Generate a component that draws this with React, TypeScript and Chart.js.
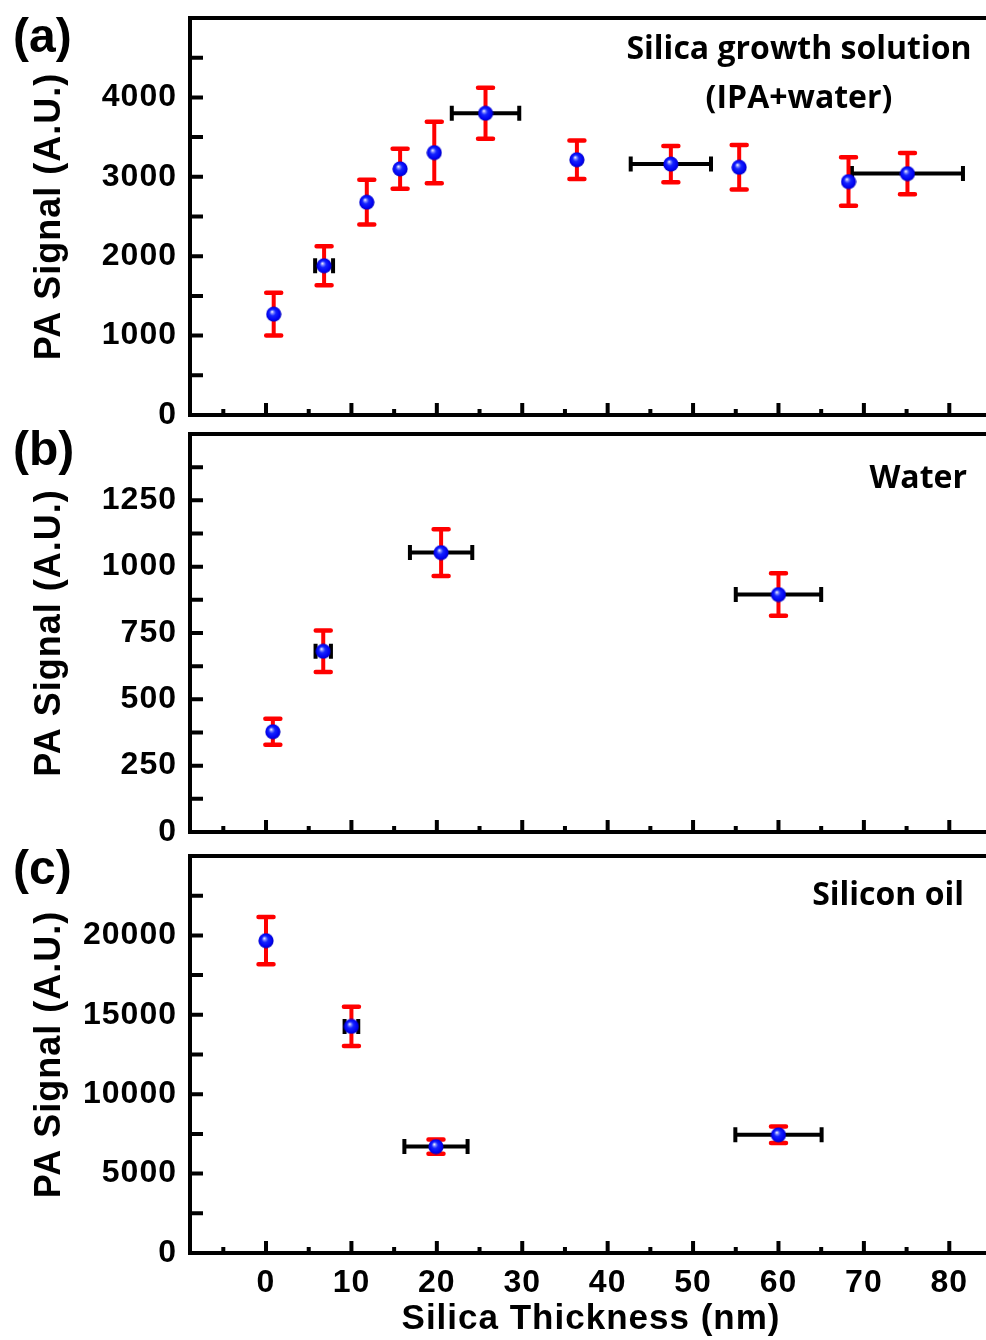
import React, { useEffect, useRef } from 'react';
import { Chart, registerables } from 'chart.js';

Chart.register(...registerables);

// ---------------- data ----------------
const X_MIN = -8.9;
const X_MAX = 85;
const X_MAJOR_TICKS = [0, 10, 20, 30, 40, 50, 60, 70, 80];
const X_MINOR_TICKS = [-5, 5, 15, 25, 35, 45, 55, 65, 75];
const X_TITLE = 'Silica Thickness (nm)';
const Y_TITLE = 'PA Signal (A.U.)';

// (a) Silica growth solution (IPA+water)
const A_X = [0.9, 6.8, 11.8, 15.7, 19.7, 25.7, 36.4, 47.4, 55.4, 68.2, 75.1];
const A_Y = [1270, 1880, 2680, 3100, 3305, 3800, 3215, 3160, 3120, 2940, 3040];
const A_YERR = [270, 245, 282, 252, 387, 322, 242, 228, 280, 305, 261];
const A_XERR = [0, 1.05, 0, 0, 0, 3.95, 0, 4.7, 0, 0, 6.5];
const A_Y_MAX = 5000;
const A_Y_MAJOR = [0, 1000, 2000, 3000, 4000];
const A_Y_MINOR = [500, 1500, 2500, 3500, 4500];
const A_LABEL = '(a)';
const A_NOTE = ['Silica growth solution', '(IPA+water)'];

// (b) Water
const B_X = [0.8, 6.7, 20.5, 60.0];
const B_Y = [378, 681, 1053, 895];
const B_YERR = [49, 78, 88, 80];
const B_XERR = [0, 0.9, 3.65, 5.0];
const B_Y_MAX = 1500;
const B_Y_MAJOR = [0, 250, 500, 750, 1000, 1250];
const B_Y_MINOR = [125, 375, 625, 875, 1125, 1375];
const B_LABEL = '(b)';
const B_NOTE = ['Water'];

// (c) Silicon oil
const C_X = [0, 10, 19.9, 60.0];
const C_Y = [19670, 14270, 6700, 7440];
const C_YERR = [1490, 1240, 450, 520];
const C_XERR = [0, 0.8, 3.7, 5.05];
const C_Y_MAX = 25000;
const C_Y_MAJOR = [0, 5000, 10000, 15000, 20000];
const C_Y_MINOR = [2500, 7500, 12500, 17500, 22500];
const C_LABEL = '(c)';
const C_NOTE = ['Silicon oil'];

// ---------------- styling / layout ----------------
const FONT = "'Liberation Sans', Arial, Helvetica, sans-serif";
const NOTE_FONT = "'Open Sans', sans-serif";
const CANVAS_W = 1000;

type PanelCfg = {
  key: string;
  top: number;
  height: number;
  padTop: number;
  xHeight: number;
  xs: number[];
  ys: number[];
  yerr: number[];
  xerr: number[];
  yMax: number;
  yMajor: number[];
  yMinor: number[];
  label: string;
  labelBaseline: number;
  note: string[];
  noteX: number;
  noteAlign: CanvasTextAlign;
  noteBaselines: number[];
  showXLabels: boolean;
};

const PANELS: PanelCfg[] = [
  {
    key: 'a', top: 0, height: 425, padTop: 18, xHeight: 10,
    xs: A_X, ys: A_Y, yerr: A_YERR, xerr: A_XERR,
    yMax: A_Y_MAX, yMajor: A_Y_MAJOR, yMinor: A_Y_MINOR,
    label: A_LABEL, labelBaseline: 52,
    note: A_NOTE, noteX: 799, noteAlign: 'center', noteBaselines: [59, 108],
    showXLabels: false,
  },
  {
    key: 'b', top: 425, height: 425, padTop: 9, xHeight: 18,
    xs: B_X, ys: B_Y, yerr: B_YERR, xerr: B_XERR,
    yMax: B_Y_MAX, yMajor: B_Y_MAJOR, yMinor: B_Y_MINOR,
    label: B_LABEL, labelBaseline: 40,
    note: B_NOTE, noteX: 967, noteAlign: 'right', noteBaselines: [63],
    showXLabels: false,
  },
  {
    key: 'c', top: 845, height: 495, padTop: 11, xHeight: 87,
    xs: C_X, ys: C_Y, yerr: C_YERR, xerr: C_XERR,
    yMax: C_Y_MAX, yMajor: C_Y_MAJOR, yMinor: C_Y_MINOR,
    label: C_LABEL, labelBaseline: 39,
    note: C_NOTE, noteX: 964, noteAlign: 'right', noteBaselines: [60],
    showXLabels: true,
  },
];

function makeBall(): HTMLCanvasElement {
  const c = document.createElement('canvas');
  c.width = 16;
  c.height = 16;
  const g = c.getContext('2d')!;
  const grad = g.createRadialGradient(6.2, 5.6, 0.3, 8, 8, 8);
  grad.addColorStop(0, '#f0f2ff');
  grad.addColorStop(0.16, '#7c86ff');
  grad.addColorStop(0.38, '#1424ff');
  grad.addColorStop(0.8, '#0000f0');
  grad.addColorStop(1, '#0000a8');
  g.fillStyle = grad;
  g.beginPath();
  g.arc(8, 8, 7.6, 0, Math.PI * 2);
  g.fill();
  return c;
}

function buildTicks(major: number[], minor: number[]) {
  return [...major, ...minor].sort((a, b) => a - b).map((v) => ({ value: v }));
}

function makePlugin(p: PanelCfg) {
  return {
    id: 'panelDecor' + p.key,
    beforeDraw(chart: any) {
      chart.ctx.letterSpacing = '1px';
    },
    beforeDatasetsDraw(chart: any) {
      const { ctx, scales } = chart;
      const x = scales.x;
      const y = scales.y;
      ctx.save();
      // horizontal (black) error bars
      ctx.strokeStyle = '#000000';
      ctx.lineWidth = 4;
      ctx.lineCap = 'butt';
      p.xs.forEach((xv, i) => {
        const e = p.xerr[i];
        if (!e) return;
        const py = y.getPixelForValue(p.ys[i]);
        const x1 = x.getPixelForValue(xv - e);
        const x2 = x.getPixelForValue(xv + e);
        ctx.beginPath();
        ctx.moveTo(x1, py);
        ctx.lineTo(x2, py);
        ctx.stroke();
        ctx.beginPath();
        ctx.moveTo(x1, py - 7.5);
        ctx.lineTo(x1, py + 7.5);
        ctx.moveTo(x2, py - 7.5);
        ctx.lineTo(x2, py + 7.5);
        ctx.stroke();
      });
      // vertical (red) error bars
      ctx.strokeStyle = '#ff0000';
      p.xs.forEach((xv, i) => {
        const e = p.yerr[i];
        const px = x.getPixelForValue(xv);
        const y1 = y.getPixelForValue(p.ys[i] + e);
        const y2 = y.getPixelForValue(p.ys[i] - e);
        ctx.lineWidth = 4;
        ctx.lineCap = 'butt';
        ctx.beginPath();
        ctx.moveTo(px, y1);
        ctx.lineTo(px, y2);
        ctx.stroke();
        ctx.lineWidth = 4.5;
        ctx.lineCap = 'round';
        ctx.beginPath();
        ctx.moveTo(px - 7.5, y1);
        ctx.lineTo(px + 7.5, y1);
        ctx.moveTo(px - 7.5, y2);
        ctx.lineTo(px + 7.5, y2);
        ctx.stroke();
      });
      ctx.restore();
    },
    afterDraw(chart: any) {
      const { ctx, chartArea, scales } = chart;
      const x = scales.x;
      const y = scales.y;
      const { left, right, top, bottom } = chartArea;
      ctx.save();
      ctx.letterSpacing = '0px';
      ctx.strokeStyle = '#000';
      ctx.lineCap = 'butt';
      // inward ticks
      ctx.lineWidth = 4;
      ctx.beginPath();
      X_MAJOR_TICKS.forEach((v) => {
        const px = x.getPixelForValue(v);
        ctx.moveTo(px, bottom);
        ctx.lineTo(px, bottom - 12);
      });
      X_MINOR_TICKS.forEach((v) => {
        const px = x.getPixelForValue(v);
        ctx.moveTo(px, bottom);
        ctx.lineTo(px, bottom - 6);
      });
      [...p.yMajor, ...p.yMinor].forEach((v) => {
        if (v <= 0 || v >= p.yMax) return;
        const py = y.getPixelForValue(v);
        ctx.moveTo(left, py);
        ctx.lineTo(left + 13, py);
      });
      ctx.stroke();
      // frame
      ctx.lineWidth = 4;
      ctx.strokeRect(left, top, right - left, bottom - top);
      // panel label
      ctx.fillStyle = '#000';
      ctx.textBaseline = 'alphabetic';
      ctx.textAlign = 'left';
      ctx.font = `bold 48px ${FONT}`;
      ctx.fillText(p.label, 13, p.labelBaseline);
      // annotation
      ctx.font = `bold 32px ${NOTE_FONT}`;
      ctx.textAlign = p.noteAlign;
      p.note.forEach((t, i) => ctx.fillText(t, p.noteX, p.noteBaselines[i]));
      ctx.restore();
    },
  };
}

function PanelChart({ p, ball }: { p: PanelCfg; ball: HTMLCanvasElement }) {
  const ref = useRef<HTMLCanvasElement | null>(null);
  useEffect(() => {
    if (!ref.current) return;
    const chart = new Chart(ref.current, {
      type: 'scatter',
      data: {
        datasets: [
          {
            data: p.xs.map((xv, i) => ({ x: xv, y: p.ys[i] })),
            pointStyle: ball as any,
            pointRadius: 7,
            showLine: false,
          },
        ],
      },
      options: {
        responsive: false,
        animation: false,
        devicePixelRatio: 1,
        events: [],
        layout: { padding: { top: p.padTop, left: 0, right: 6, bottom: 0 } },
        plugins: { legend: { display: false }, tooltip: { enabled: false } },
        scales: {
          x: {
            type: 'linear',
            min: X_MIN,
            max: X_MAX,
            grid: { display: false, drawTicks: false },
            border: { display: false },
            afterBuildTicks: (s: any) => {
              s.ticks = buildTicks(X_MAJOR_TICKS, X_MINOR_TICKS);
            },
            afterFit: (s: any) => {
              s.height = p.xHeight;
              s.paddingLeft = 0;
              s.paddingRight = 0;
              s.paddingTop = 0;
              s.paddingBottom = 0;
            },
            ticks: {
              display: p.showXLabels,
              autoSkip: false,
              maxRotation: 0,
              padding: 11,
              color: '#000',
              font: { family: FONT, size: 32, weight: 'bold' },
              callback: (v: any) => (X_MAJOR_TICKS.includes(Number(v)) ? String(v) : ''),
            },
            title: {
              display: p.showXLabels,
              text: X_TITLE,
              color: '#000',
              padding: 0,
              font: { family: FONT, size: 35, weight: 'bold' },
            },
          },
          y: {
            type: 'linear',
            min: 0,
            max: p.yMax,
            grid: { display: false, drawTicks: false },
            border: { display: false },
            afterBuildTicks: (s: any) => {
              s.ticks = buildTicks(p.yMajor, [...p.yMinor, p.yMax]);
            },
            afterFit: (s: any) => {
              s.width = 190;
              s.paddingLeft = 0;
              s.paddingRight = 0;
              s.paddingTop = 0;
              s.paddingBottom = 0;
            },
            ticks: {
              autoSkip: false,
              padding: 13,
              color: '#000',
              font: { family: FONT, size: 32, weight: 'bold' },
              callback: (v: any) => (p.yMajor.includes(Number(v)) ? String(v) : ''),
            },
            title: {
              display: true,
              text: Y_TITLE,
              color: '#000',
              padding: { top: 28, bottom: 0 },
              font: { family: FONT, size: 36, weight: 'bold' },
            },
          },
        },
      } as any,
      plugins: [makePlugin(p)],
    });
    return () => chart.destroy();
  }, [p, ball]);
  return (
    <canvas
      ref={ref}
      width={CANVAS_W}
      height={p.height}
      style={{ position: 'absolute', left: 0, top: p.top, width: CANVAS_W, height: p.height }}
    />
  );
}

const BALL = typeof document !== 'undefined' ? makeBall() : (null as any);

export default function App() {
  return (
    <div
      style={{
        position: 'absolute',
        left: 0,
        top: 0,
        width: 986,
        height: 1340,
        overflow: 'hidden',
        background: '#ffffff',
      }}
    >
      {PANELS.map((p) => (
        <PanelChart key={p.key} p={p} ball={BALL} />
      ))}
    </div>
  );
}
